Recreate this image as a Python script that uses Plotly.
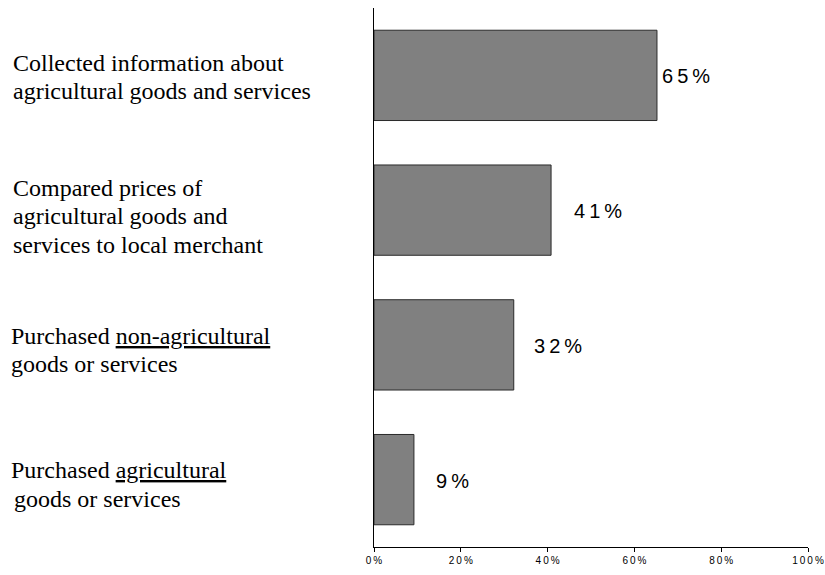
import plotly.graph_objects as go

categories = [
    "Collected information about<br>agricultural goods and services",
    "Compared prices of<br>agricultural goods and<br>services to local merchant",
    "Purchased <u>non-agricultural</u><br>goods or services",
    "Purchased <u>agricultural</u><br>goods or services",
]
values = [0.652, 0.408, 0.322, 0.092]
value_labels = ["65%", "41%", "32%", "9%"]
tick_vals = [0, 0.2, 0.4, 0.6, 0.8, 1.0]
tick_labels = ["0%", "20%", "40%", "60%", "80%", "100%"]

TS = "\u2009"
def spaced(s):
    return TS.join(list(s))

L, R, T, B = 374, 17, 8, 28
W, H = 825, 575
PW = W - L - R

label_shift = [3, 21, 18, 20]
# left pixel of each text line, per category
line_px = [[11, 11], [11, 11, 11], [9, 9], [9, 12]]
cat_dy = [1.5, 6, 5, 5]
PITCH = 28.5

fig = go.Figure()
fig.add_trace(go.Bar(
    y=list(range(len(categories))),
    x=values,
    orientation="h",
    width=0.67,
    marker=dict(color="#808080", line=dict(color="#2a2a2a", width=1)),
    hoverinfo="skip",
))

for i, (v, lab) in enumerate(zip(values, value_labels)):
    fig.add_annotation(
        x=v, y=i, xref="x", yref="y", text=spaced(lab), showarrow=False,
        xanchor="left", yanchor="middle", xshift=label_shift[i], yshift=-1,
        font=dict(family="Liberation Sans, Arial", size=20, color="black"),
    )

for i, c in enumerate(categories):
    lines = c.split("<br>")
    n = len(lines)
    for j, ln in enumerate(lines):
        off = (j - (n - 1) / 2) * PITCH + cat_dy[i]
        fig.add_annotation(
            x=(line_px[i][j] - L) / PW, y=i, xref="paper", yref="y", text=ln,
            showarrow=False, xanchor="left", yanchor="middle", align="left",
            yshift=-off,
            font=dict(family="Liberation Serif, Times New Roman", size=24, color="black"),
        )

fig.update_layout(
    width=W, height=H,
    margin=dict(l=L, r=R, t=T, b=B, autoexpand=False),
    plot_bgcolor="white", paper_bgcolor="white",
    showlegend=False,
)
fig.update_xaxes(
    range=[0, 1], tickvals=tick_vals, ticktext=[spaced(t) for t in tick_labels],
    showgrid=False, zeroline=False, showline=True, linecolor="black", linewidth=1,
    ticks="outside", ticklen=4, tickcolor="black", automargin=False,
    tickfont=dict(family="Liberation Sans, Arial", size=10, color="black"),
)
fig.update_yaxes(
    range=[len(categories) - 0.5, -0.5], showticklabels=False, showgrid=False,
    zeroline=False, showline=True, linecolor="black", linewidth=1, ticks="",
    automargin=False,
)
fig.write_html("out.html")
